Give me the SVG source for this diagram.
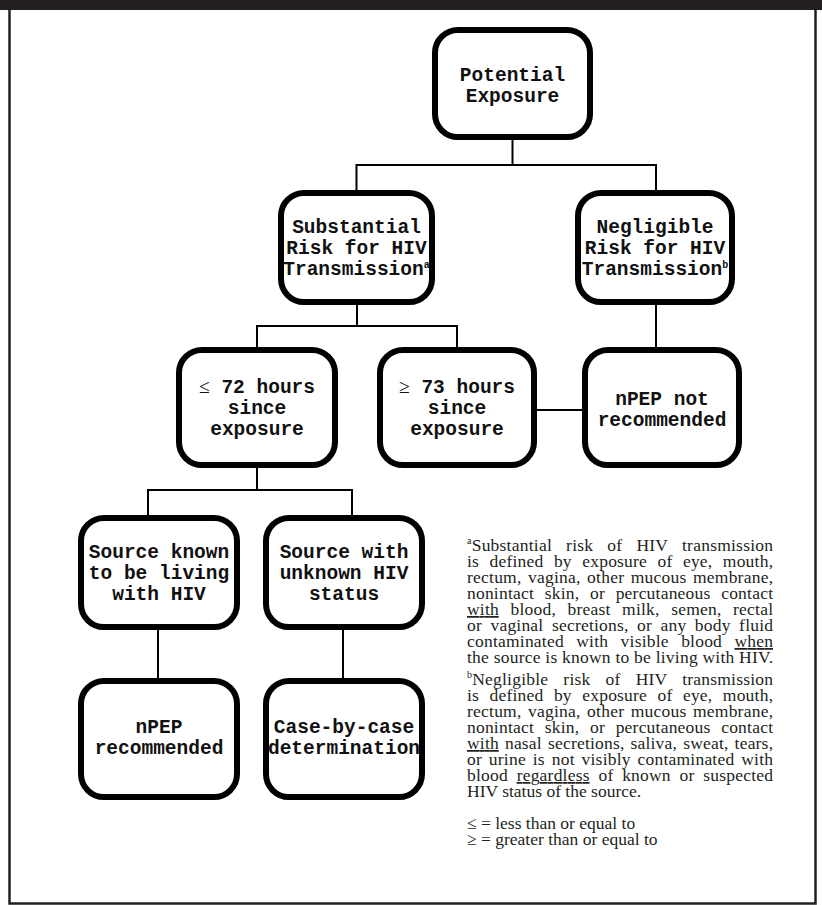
<svg xmlns="http://www.w3.org/2000/svg" width="822" height="905" viewBox="0 0 822 905">
<style>
.box{fill:#fff;stroke:#000;stroke-width:6}
.bt{font-family:"Liberation Mono","DejaVu Sans Mono",monospace;font-weight:bold;font-size:19.5px;fill:#111;text-anchor:middle}
.sym{font-family:"Liberation Serif",serif;font-weight:normal}
.sup{font-size:10px}
.fn{font-family:"Liberation Serif","Times New Roman",serif;font-size:17.5px;fill:#231f20}
.u{text-decoration:underline}
.conn line{stroke:#000;stroke-width:2}
</style>
<rect x="0" y="0" width="822" height="10" fill="#231f20"/>
<path d="M9.5 8 V903.5 H815.5 V8" fill="none" stroke="#231f20" stroke-width="2.5"/>

<g id="connectors" class="conn">
<line x1="512.5" y1="138" x2="512.5" y2="165"/>
<line x1="356.5" y1="165" x2="656" y2="165"/>
<line x1="356.5" y1="164" x2="356.5" y2="192"/>
<line x1="656" y1="164" x2="656" y2="192"/>
<line x1="357" y1="303" x2="357" y2="326"/>
<line x1="257" y1="326" x2="457" y2="326"/>
<line x1="257" y1="325" x2="257" y2="349"/>
<line x1="457" y1="325" x2="457" y2="349"/>
<line x1="656" y1="303" x2="656" y2="349"/>
<line x1="535" y1="410" x2="584" y2="410"/>
<line x1="257" y1="466" x2="257" y2="490"/>
<line x1="148" y1="490" x2="352" y2="490"/>
<line x1="148" y1="489" x2="148" y2="517"/>
<line x1="352" y1="489" x2="352" y2="517"/>
<line x1="158" y1="628" x2="158" y2="680"/>
<line x1="343" y1="628" x2="343" y2="680"/>
</g>

<g id="potential-exposure">
<rect class="box" x="435" y="30" width="155" height="107" rx="23"/>
<text class="bt" x="512.5" y="81">Potential</text>
<text class="bt" x="512.5" y="102">Exposure</text>
</g>

<g id="substantial-risk">
<rect class="box" x="281" y="193" width="151" height="109" rx="23"/>
<text class="bt" x="356.5" y="233">Substantial</text>
<text class="bt" x="356.5" y="254">Risk for HIV</text>
<text class="bt" x="356.5" y="275">Transmission<tspan class="sup" dy="-7">a</tspan></text>
</g>

<g id="negligible-risk">
<rect class="box" x="578" y="193" width="154" height="109" rx="23"/>
<text class="bt" x="655" y="233">Negligible</text>
<text class="bt" x="655" y="254">Risk for HIV</text>
<text class="bt" x="655" y="275">Transmission<tspan class="sup" dy="-7">b</tspan></text>
</g>

<g id="le72-hours">
<rect class="box" x="179" y="350" width="156" height="115" rx="23"/>
<text class="bt" x="257" y="393"><tspan class="sym">≤</tspan> 72 hours</text>
<text class="bt" x="257" y="414">since</text>
<text class="bt" x="257" y="435">exposure</text>
</g>

<g id="ge73-hours">
<rect class="box" x="380" y="350" width="154" height="115" rx="23"/>
<text class="bt" x="457" y="393"><tspan class="sym">≥</tspan> 73 hours</text>
<text class="bt" x="457" y="414">since</text>
<text class="bt" x="457" y="435">exposure</text>
</g>

<g id="npep-not-recommended">
<rect class="box" x="585" y="350" width="154" height="115" rx="23"/>
<text class="bt" x="662" y="405">nPEP not</text>
<text class="bt" x="662" y="426">recommended</text>
</g>

<g id="source-known">
<rect class="box" x="81" y="518" width="156" height="109" rx="23"/>
<text class="bt" x="159" y="558">Source known</text>
<text class="bt" x="159" y="579">to be living</text>
<text class="bt" x="159" y="600">with HIV</text>
</g>

<g id="source-unknown">
<rect class="box" x="266" y="518" width="156" height="109" rx="23"/>
<text class="bt" x="344" y="558">Source with</text>
<text class="bt" x="344" y="579">unknown HIV</text>
<text class="bt" x="344" y="600">status</text>
</g>

<g id="npep-recommended">
<rect class="box" x="81" y="681" width="156" height="116" rx="23"/>
<text class="bt" x="159" y="733">nPEP</text>
<text class="bt" x="159" y="754">recommended</text>
</g>

<g id="case-by-case">
<rect class="box" x="266" y="681" width="156" height="116" rx="23"/>
<text class="bt" x="344" y="733">Case-by-case</text>
<text class="bt" x="344" y="754">determination</text>
</g>

<g id="footnotes" class="fn">
<text x="467" y="551" textLength="306" lengthAdjust="spacing" word-spacing="9.5"><tspan class="sup" dy="-7">a</tspan><tspan dy="7">Substantial risk of HIV transmission</tspan></text>
<text x="467" y="567" textLength="306" lengthAdjust="spacing" word-spacing="5.8">is defined by exposure of eye, mouth,</text>
<text x="467" y="583" textLength="306" lengthAdjust="spacing" word-spacing="1.9">rectum, vagina, other mucous membrane,</text>
<text x="467" y="599" textLength="306" lengthAdjust="spacing" word-spacing="6.1">nonintact skin, or percutaneous contact</text>
<text x="467" y="615" textLength="306" lengthAdjust="spacing" word-spacing="7"><tspan class="u">with</tspan> blood, breast milk, semen, rectal</text>
<text x="467" y="631" textLength="306" lengthAdjust="spacing" word-spacing="3.9">or vaginal secretions, or any body fluid</text>
<text x="467" y="647" textLength="306" lengthAdjust="spacing" word-spacing="7.8">contaminated with visible blood <tspan class="u">when</tspan></text>
<text x="467" y="663" textLength="306" lengthAdjust="spacing">the source is known to be living with HIV.</text>

<text x="467" y="685" textLength="306" lengthAdjust="spacing" word-spacing="10.5"><tspan class="sup" dy="-7">b</tspan><tspan dy="7">Negligible risk of HIV transmission</tspan></text>
<text x="467" y="701" textLength="306" lengthAdjust="spacing" word-spacing="5.8">is defined by exposure of eye, mouth,</text>
<text x="467" y="717" textLength="306" lengthAdjust="spacing" word-spacing="1.9">rectum, vagina, other mucous membrane,</text>
<text x="467" y="733" textLength="306" lengthAdjust="spacing" word-spacing="6.1">nonintact skin, or percutaneous contact</text>
<text x="467" y="749" textLength="306" lengthAdjust="spacing" word-spacing="1.5"><tspan class="u">with</tspan> nasal secretions, saliva, sweat, tears,</text>
<text x="467" y="765" textLength="306" lengthAdjust="spacing" word-spacing="2.3">or urine is not visibly contaminated with</text>
<text x="467" y="781" textLength="306" lengthAdjust="spacing" word-spacing="4.1">blood <tspan class="u">regardless</tspan> of known or suspected</text>
<text x="467" y="797">HIV status of the source.</text>

<text x="467" y="829">≤ = less than or equal to</text>
<text x="467" y="845">≥ = greater than or equal to</text>
</g>
</svg>
